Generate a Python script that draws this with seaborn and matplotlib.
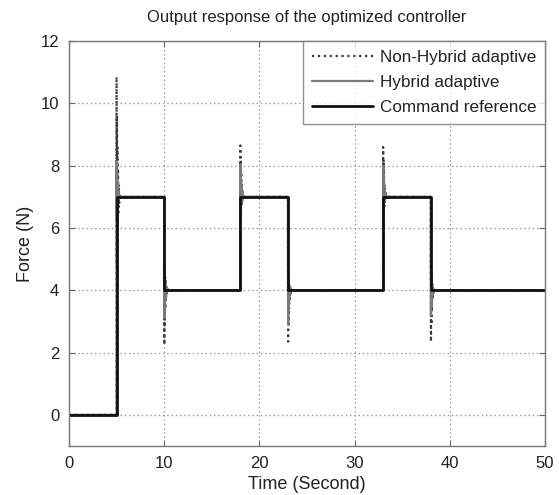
import matplotlib
matplotlib.use("Agg")
import matplotlib.pyplot as plt
import seaborn as sns
import pandas as pd

# ---- data ----
step_times = [5, 10, 18, 23, 33, 38]
levels_before = [0, 7, 4, 7, 4, 7]
end_time = 50
end_level = 4

ref_t = [0, 5, 5, 10, 10, 18, 18, 23, 23, 33, 33, 38, 38, 50]
ref_f = [0, 0, 7, 7, 4, 4, 7, 7, 4, 4, 7, 7, 4, 4]

# time offsets after each step for the transient samples
offsets = [0, 0.02, 0.04, 0.06, 0.09, 0.12, 0.15, 0.19, 0.23, 0.28, 0.34, 0.40]

nonhybrid_transients = [
    [10.85, 4.8, 9.6, 5.4, 8.6, 6.0, 7.9, 6.5, 7.4, 6.8, 7.1, 7.0],
    [4.9, 2.25, 4.7, 2.9, 4.5, 3.4, 4.3, 3.7, 4.15, 3.9, 4.05, 4.0],
    [8.65, 6.1, 8.2, 6.4, 7.8, 6.7, 7.4, 6.85, 7.2, 6.95, 7.05, 7.0],
    [4.9, 2.35, 4.6, 2.9, 4.4, 3.4, 4.2, 3.7, 4.1, 3.9, 4.03, 4.0],
    [8.6, 6.0, 8.2, 6.4, 7.8, 6.7, 7.4, 6.85, 7.2, 6.95, 7.05, 7.0],
    [4.9, 2.35, 4.6, 2.9, 4.4, 3.4, 4.2, 3.7, 4.1, 3.9, 4.03, 4.0],
]

hybrid_transients = [
    [8.15, 6.3, 7.8, 6.6, 7.5, 6.8, 7.3, 6.9, 7.15, 6.95, 7.05, 7.0],
    [4.8, 3.1, 4.5, 3.5, 4.3, 3.7, 4.15, 3.85, 4.08, 3.95, 4.02, 4.0],
    [8.05, 6.4, 7.7, 6.6, 7.4, 6.8, 7.25, 6.9, 7.1, 6.95, 7.03, 7.0],
    [4.9, 2.9, 4.5, 3.4, 4.3, 3.7, 4.15, 3.85, 4.08, 3.95, 4.02, 4.0],
    [8.0, 6.4, 7.7, 6.6, 7.4, 6.8, 7.25, 6.9, 7.1, 6.95, 7.03, 7.0],
    [4.9, 3.2, 4.5, 3.5, 4.3, 3.7, 4.15, 3.85, 4.08, 3.95, 4.02, 4.0],
]

x_ticks = [0, 10, 20, 30, 40, 50]
y_ticks = [0, 2, 4, 6, 8, 10, 12]


def build_series(transients):
    t, y = [0], [0]
    for s, lvl, vals in zip(step_times, levels_before, transients):
        t.append(s)
        y.append(lvl)
        t += [s + o for o in offsets]
        y += vals
    t.append(end_time)
    y.append(end_level)
    return pd.DataFrame({"t": t, "f": y})


nh = build_series(nonhybrid_transients)
hy = build_series(hybrid_transients)
ref = pd.DataFrame({"t": ref_t, "f": ref_f})

sns.set_style("white")
plt.rcParams["font.family"] = ["Liberation Sans", "DejaVu Sans"]

fig = plt.figure(figsize=(5.59, 4.95), dpi=100)
ax = fig.add_axes([0.1234, 0.099, 0.975 - 0.1234, 0.917 - 0.099])

sns.lineplot(data=nh, x="t", y="f", ax=ax, sort=False, estimator=None,
             color="#3a3a3a", linestyle=":", linewidth=1.6,
             label="Non-Hybrid adaptive")
sns.lineplot(data=hy, x="t", y="f", ax=ax, sort=False, estimator=None,
             color="#7a7a7a", linestyle="-", linewidth=1.6,
             label="Hybrid adaptive")
sns.lineplot(data=ref, x="t", y="f", ax=ax, sort=False, estimator=None,
             color="#111111", linestyle="-", linewidth=2.0,
             label="Command reference")

ax.set_xlim(0, 50)
ax.set_ylim(-1, 12)
ax.set_xticks(x_ticks)
ax.set_yticks(y_ticks)
ax.grid(True, linestyle=(0, (1.2, 2.2)), color="#9a9a9a", linewidth=0.9)
ax.tick_params(direction="in", length=4, color="#666666", labelsize=12,
               labelcolor="#222222", top=True, right=True, bottom=True, left=True,
               pad=7)
for sp in ax.spines.values():
    sp.set_color("#777777")
    sp.set_linewidth(1.0)

ax.set_xlabel("Time (Second)", fontsize=13, color="#222222", labelpad=4)
ax.set_ylabel("Force (N)", fontsize=13, color="#222222", labelpad=5)
ax.set_title("Output response of the optimized controller", fontsize=12,
             color="#222222", pad=14)

leg = ax.legend(loc="upper right", fontsize=12.3, frameon=True, fancybox=False,
                borderaxespad=0, handlelength=3.6, handletextpad=0.4,
                labelspacing=0.6, borderpad=0.5)
leg.get_frame().set_edgecolor("#777777")
leg.get_frame().set_linewidth(1.0)
for txt in leg.get_texts():
    txt.set_color("#222222")

fig.savefig("out.png", dpi=100)
